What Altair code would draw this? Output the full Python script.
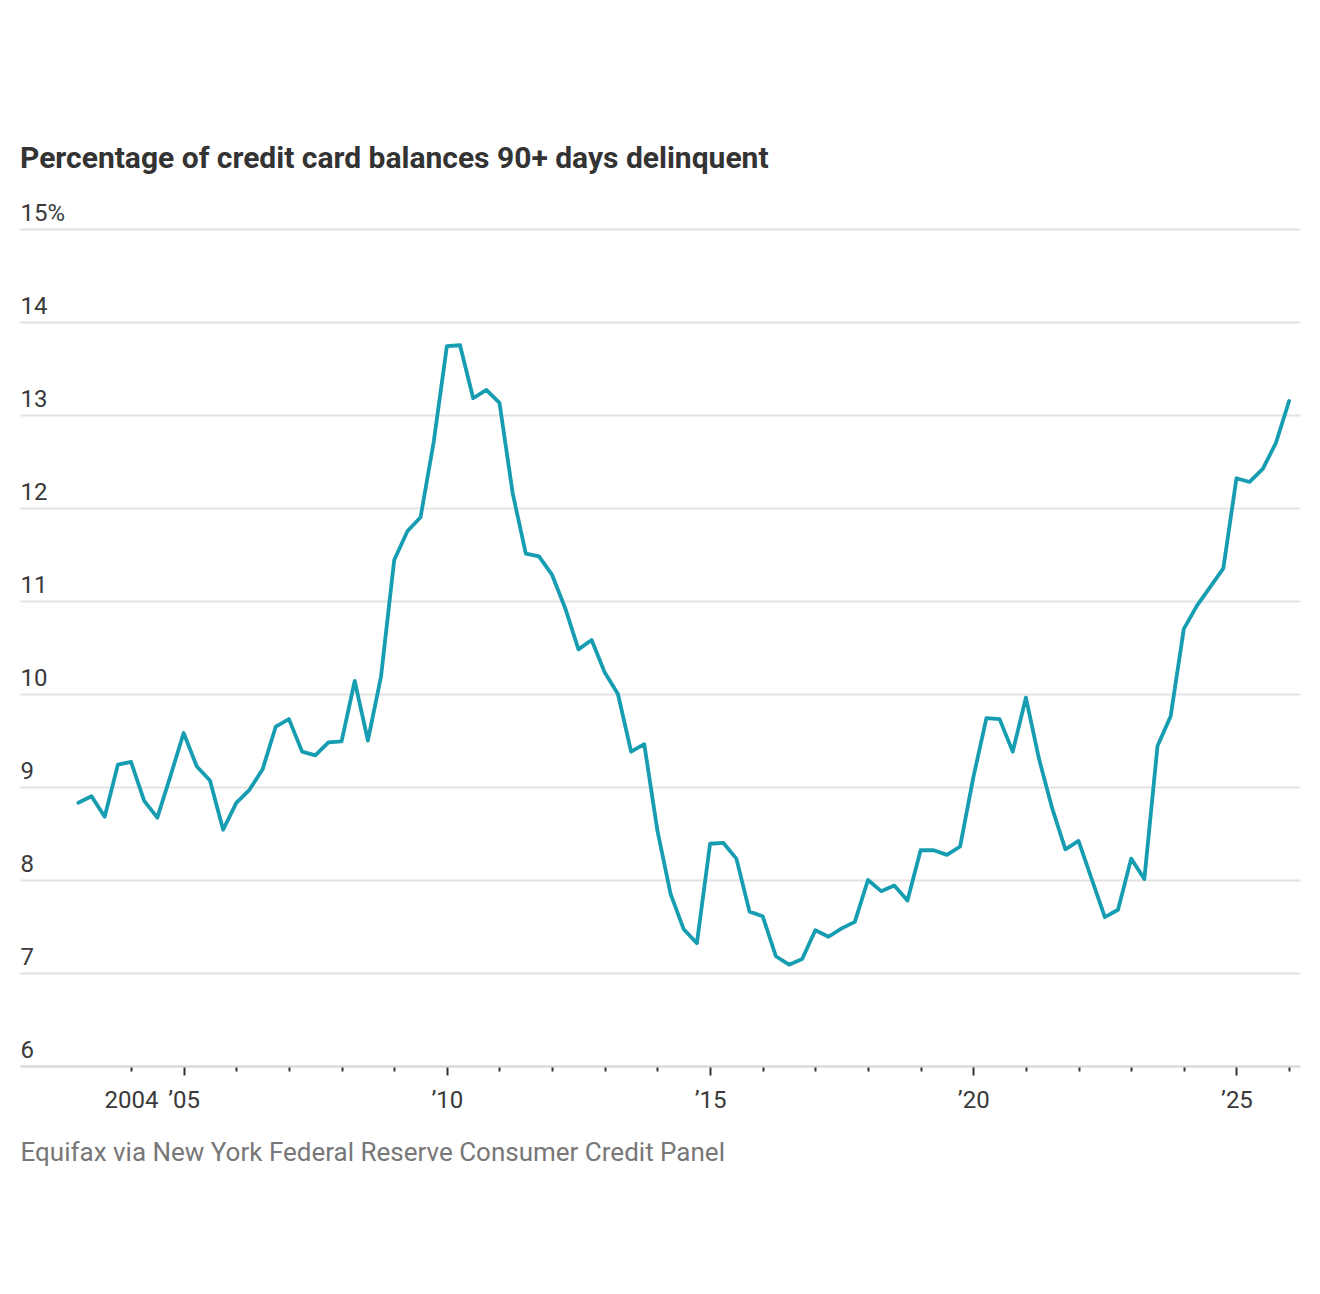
import altair as alt
import pandas as pd

# Quarterly observations (share of card balances 90+ days delinquent, %)
quarters = [str(p) for p in pd.period_range("2002Q4", "2025Q4", freq="Q")]
delinquent_pct = [
    8.83, 8.90, 8.68, 9.24, 9.27, 8.85, 8.67, 9.12, 9.58, 9.22,
    9.07, 8.54, 8.83, 8.97, 9.19, 9.65, 9.73, 9.38, 9.34, 9.48,
    9.49, 10.14, 9.50, 10.19, 11.44, 11.75, 11.90, 12.71, 13.74, 13.75,
    13.18, 13.27, 13.13, 12.16, 11.51, 11.48, 11.28, 10.92, 10.48, 10.58,
    10.23, 10.00, 9.38, 9.46, 8.53, 7.85, 7.47, 7.32, 8.39, 8.40,
    8.23, 7.66, 7.61, 7.18, 7.09, 7.15, 7.46, 7.39, 7.48, 7.55,
    8.00, 7.88, 7.94, 7.78, 8.32, 8.32, 8.27, 8.36, 9.10, 9.74,
    9.73, 9.38, 9.96, 9.30, 8.77, 8.33, 8.42, 8.01, 7.60, 7.68,
    8.23, 8.01, 9.44, 9.76, 10.70, 10.95, 11.15, 11.35, 12.32, 12.28,
    12.42, 12.70, 13.15,
]
year_ticks = list(range(2004, 2027))
pct_ticks = list(range(6, 16))

TITLE = "Percentage of credit card balances 90+ days delinquent"
SOURCE = "Equifax via New York Federal Reserve Consumer Credit Panel"
FONT = "Roboto, sans-serif"

# Plot each quarter at its end, in decimal years
df = pd.DataFrame({"quarter": quarters, "pct": delinquent_pct})
df["t"] = df["quarter"].str[:4].astype(int) + df["quarter"].str[-1].astype(int) / 4

MAJOR = "datum.value % 5 == 0"

x_axis = alt.Axis(
    values=year_ticks,
    labelExpr=(
        "datum.value == 2004 ? '2004' : "
        "(datum.value % 5 == 0 ? '\u2019' + substring(toString(datum.value), 2) : '')"
    ),
    tickSize={"condition": {"test": MAJOR, "value": 9}, "value": 5},
    tickColor="#333333",
    tickWidth=2,
    domainColor="#d9d9d9",
    domainWidth=2,
    grid=False,
    labelFont=FONT,
    labelFontSize=24,
    labelColor="#3a3a3a",
    labelBaseline="alphabetic",
    labelPadding={"condition": {"test": MAJOR, "value": 32}, "value": 36},
    labelOverlap=False,
    title=SOURCE,
    titleFont=FONT,
    titleFontSize=26,
    titleFontWeight="normal",
    titleColor="#777777",
    titleAnchor="start",
    titleAlign="left",
    titleBaseline="alphabetic",
    titleX=0,
    titleY=94,
)

y_axis = alt.Axis(
    values=pct_ticks,
    labelExpr="datum.value == 15 ? '15%' : datum.label",
    domain=False,
    ticks=False,
    tickSize=0,
    labelAlign="left",
    labelBaseline="bottom",
    labelPadding=0,
    labelOffset=-4,
    labelFont=FONT,
    labelFontSize=24,
    labelColor="#3a3a3a",
    grid=True,
    gridColor="#e3e3e3",
    gridWidth=2,
    title=None,
)

chart = (
    alt.Chart(df)
    .mark_line(color="#179db1", strokeWidth=3.8, strokeJoin="round", strokeCap="round")
    .encode(
        x=alt.X("t:Q", scale=alt.Scale(domain=[2001.891, 2026.207], nice=False, zero=False), axis=x_axis),
        y=alt.Y("pct:Q", scale=alt.Scale(domain=[6, 15], nice=False, zero=False), axis=y_axis),
    )
    .properties(
        width=1280,
        height=837,
        autosize=alt.AutoSizeParams(type="none"),
        padding={"left": 20, "top": 229, "right": 20, "bottom": 228},
        background="white",
        title=alt.TitleParams(
            TITLE,
            anchor="start",
            frame="group",
            baseline="alphabetic",
            offset=63,
            dy=60,
            font=FONT,
            fontSize=30,
            fontWeight="bold",
            color="#333333",
        ),
    )
    .configure_view(stroke=None)
)

chart.save("out.html", embed_options={"renderer": "svg", "actions": False})
